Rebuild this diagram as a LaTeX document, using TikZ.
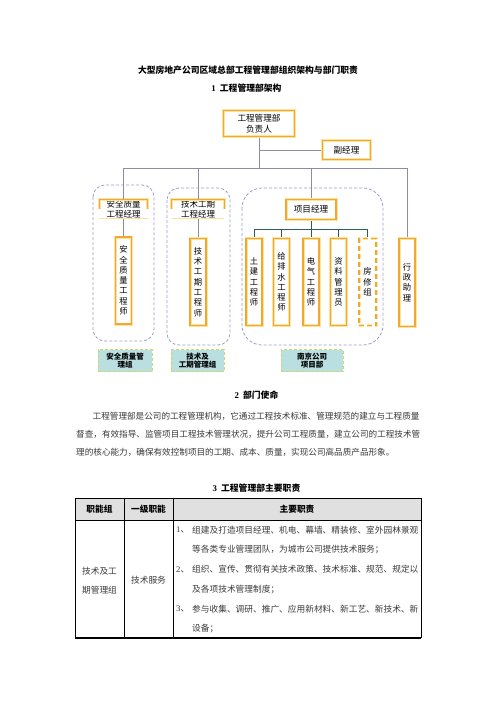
\documentclass[tikz,border=0pt]{standalone}
\usepackage{fontspec}
\setmainfont{Noto Sans CJK SC}
\newfontfamily\lat{Liberation Serif}
\definecolor{bor}{HTML}{F2A72E}
\definecolor{blt}{HTML}{FDE3A0}
\definecolor{grp}{HTML}{9C9CD2}
\definecolor{conc}{HTML}{8C8CA6}
\definecolor{subc}{HTML}{2E5C5C}
\definecolor{lbf}{HTML}{BADFE1}
\definecolor{lbd}{HTML}{CCD868}
\definecolor{txt}{HTML}{3A3A3A}
\definecolor{hdr}{HTML}{E0E0E0}
\begin{document}
\begin{tikzpicture}[x=1pt,y=-1pt,
  obox/.style={fill=white, draw=blt, line width=3pt, postaction={draw=bor, line width=1.2pt},
    inner sep=0pt, align=center, font=\fontsize{8.6}{10.7}\selectfont},
  vbox/.style={obox, minimum width=16, minimum height=87, font=\fontsize{8.3}{10.3}\selectfont},
  dbox/.style={fill=white, draw=blt, line width=3pt, dash pattern=on 5pt off 3pt,
    postaction={draw=bor, line width=1.2pt, dash pattern=on 5pt off 3pt},
    inner sep=0pt, align=center, minimum width=17, minimum height=87, font=\fontsize{8.3}{10.3}\selectfont},
  brk/.style={draw=blt, line width=3pt, postaction={draw=bor, line width=1.2pt}},
  bnode/.style={inner sep=0pt, align=center, minimum width=48, minimum height=19, font=\fontsize{8.5}{9.7}\selectfont},
  grpbox/.style={draw=grp, line width=0.8pt, dash pattern=on 3pt off 2pt},
  con/.style={draw=conc, line width=0.8pt},
  subcon/.style={draw=subc, line width=0.8pt},
  lbl/.style={fill=lbf, draw=lbd, line width=0.8pt, dash pattern=on 3pt off 2pt, inner sep=0pt,
    align=center, minimum height=22, font=\bfseries\fontsize{7.5}{8.5}\selectfont},
  head/.style={inner sep=0pt, font=\bfseries\fontsize{8.8}{10}\selectfont},
  para/.style={inner sep=0pt, anchor=west, text=txt, font=\fontsize{8.6}{10}\selectfont},
  cell/.style={inner sep=0pt, text=txt, font=\fontsize{8.7}{10}\selectfont},
  hcell/.style={inner sep=0pt, font=\bfseries\fontsize{8.7}{10}\selectfont},
  tline/.style={draw=black, line width=0.7pt}
]
\useasboundingbox (0,0) rectangle (496,702);
\fill[white] (0,0) rectangle (496,702);

% titles
\node[head] (title) at (248,70) {大型房地产公司区域总部工程管理部组织架构与部门职责};
\node[head] (h1) at (246.5,88) {{\lat 1}\ \ 工程管理部架构};

% group frames
\draw[grpbox, rounded corners=12pt] (93,185) rectangle (154,341);
\draw[grpbox, rounded corners=12pt] (167,188) rectangle (230,345);
\draw[grpbox, rounded corners=20pt] (242,188) rectangle (383,345);

% org nodes
\node[obox, minimum width=71, minimum height=26] (top) at (259,123.5) {工程管理部\\负责人};
\node[obox, minimum width=48, minimum height=19] (fj) at (346.5,150) {副经理};

\node[bnode] (am) at (123.5,209) {安全质量\\工程经理};
\node[bnode, minimum width=52] (tm) at (198,209) {技术工期\\工程经理};
\draw[brk] (am.west) -- (am.north west) -- (am.north east) -- (am.east);
\draw[draw=blt, line width=0.8pt] (am.south west) -- (am.south east);
\draw[brk] (tm.west) -- (tm.north west) -- (tm.north east) -- (tm.east);
\draw[draw=blt, line width=0.8pt] (tm.south west) -- (tm.south east);

\node[obox, minimum width=50, minimum height=20] (pm) at (311,209.5) {项目经理};

\node[vbox] (ae) at (123.5,280.5) {安\\全\\质\\量\\工\\程\\师};
\node[vbox] (te) at (198,282) {技\\术\\工\\期\\工\\程\\师};
\node[vbox] (c1) at (254,282) {土\\建\\工\\程\\师};
\node[vbox] (c2) at (281.5,282) {给\\排\\水\\工\\程\\师};
\node[vbox] (c3) at (311,282) {电\\气\\工\\程\\师};
\node[vbox] (c4) at (338.5,282) {资\\料\\管\\理\\员};
\node[dbox] (c5) at (367.5,282) {房\\修\\组};
\node[vbox, minimum height=88] (xz) at (407,282.5) {行\\政\\助\\理};

% connectors
\coordinate (bus) at (0,168);
\coordinate (sb) at (0,229);
\draw[con] (top.south) -- (top.south |- bus);
\draw[con] (top.south |- fj.west) -- (fj.west);
\draw[con] (am.north |- bus) -- (xz.north |- bus);
\draw[con] (am.north |- bus) -- (am.north);
\draw[con] (tm.north |- bus) -- (tm.north);
\draw[con] (pm.north |- bus) -- (pm.north);
\draw[con] (xz.north |- bus) -- (xz.north);
\draw[con] (am.south) -- (ae.north);
\draw[con] (tm.south) -- (te.north);
\draw[subcon] (pm.south) -- (pm.south |- sb);
\draw[subcon] (c1.north |- sb) -- (c5.north |- sb);
\foreach \c in {c1,c2,c3,c4,c5} \draw[subcon] (\c.north |- sb) -- (\c.north);

% group labels
\node[lbl, minimum width=54] (l1) at (125,360.5) {安全质量管\\理组};
\node[lbl, minimum width=53] (l2) at (197.5,360.5) {技术及\\工期管理组};
\node[lbl, minimum width=62] (l3) at (312,360.5) {南京公司\\项目部};

% section 2
\node[head] (h2) at (256.5,395) {{\lat 2}\ \ 部门使命};
\node[para] (p1) at (92.5,416) {工程管理部是公司的工程管理机构，它通过工程技术标准、管理规范的建立与工程质量};
\node[para] (p2) at (76,434) {督查，有效指导、监管项目工程技术管理状况，提升公司工程质量，建立公司的工程技术管};
\node[para] (p3) at (76,452) {理的核心能力，确保有效控制项目的工期、成本、质量，实现公司高品质产品形象。};

% section 3
\node[head] (h3) at (256.5,488) {{\lat 3}\ \ 工程管理部主要职责};

% table
\fill[hdr] (75,498) rectangle (421,520);
\draw[tline] (75,498) -- (421,498);
\draw[tline] (75,520) -- (421,520);
\draw[tline, line width=1.1pt] (75,638) -- (421,638);
\draw[tline] (75,498) -- (75,638);
\draw[tline] (124,498) -- (124,638);
\draw[tline] (173,498) -- (173,638);
\draw[tline] (421,498) -- (421,638);

\node[hcell] (th1) at (99.5,509) {职能组};
\node[hcell] (th2) at (148.5,509) {一级职能};
\node[hcell] (th3) at (297,509) {主要职责};

\node[cell] (r1a) at (99.5,571) {技术及工};
\node[cell] (r1b) at (99.5,590) {期管理组};
\node[cell] (r2) at (148.5,580) {技术服务};

\node[cell, anchor=west] (n1) at (176,530) {{\lat 1}、};
\node[cell, anchor=west] (t1) at (192,530) {组建及打造项目经理、机电、幕墙、精装修、室外园林景观};
\node[cell, anchor=west] (t2) at (192,549.8) {等各类专业管理团队，为城市公司提供技术服务；};
\node[cell, anchor=west] (n2) at (176,569.6) {{\lat 2}、};
\node[cell, anchor=west] (t3) at (192,569.6) {组织、宣传、贯彻有关技术政策、技术标准、规范、规定以};
\node[cell, anchor=west] (t4) at (192,589.4) {及各项技术管理制度；};
\node[cell, anchor=west] (n3) at (176,609.2) {{\lat 3}、};
\node[cell, anchor=west] (t5) at (192,609.2) {参与收集、调研、推广、应用新材料、新工艺、新技术、新};
\node[cell, anchor=west] (t6) at (192,629) {设备；};
\end{tikzpicture}
\end{document}
